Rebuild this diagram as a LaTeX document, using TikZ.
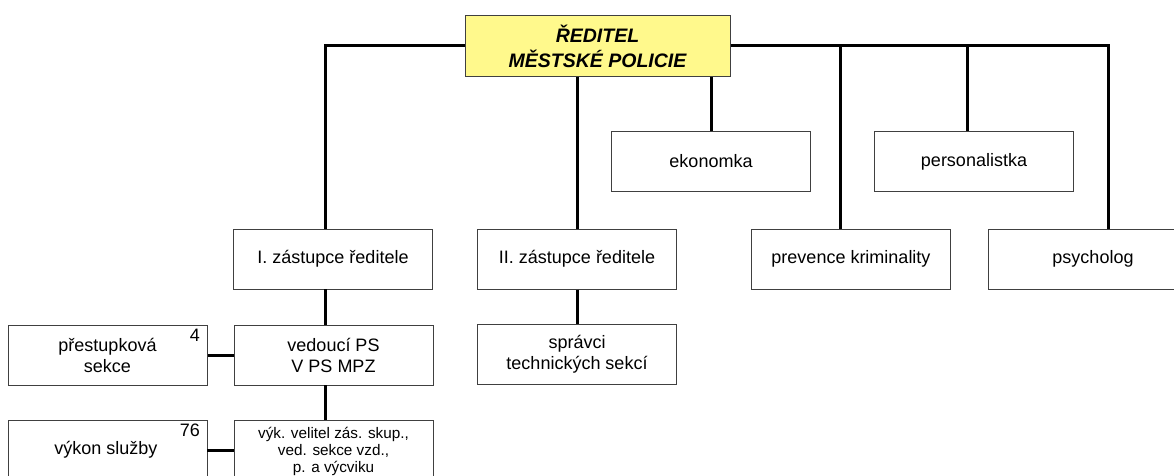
\documentclass[tikz,border=0pt]{standalone}
\usepackage{fontspec}
\setmainfont{Liberation Sans}
\begin{document}
\begin{tikzpicture}[x=1pt,y=-1pt,
  box/.style={draw=black!75, line width=1pt, fill=white, inner sep=0pt, align=center,
    minimum width=199pt, minimum height=60pt, font=\fontsize{18}{21}\selectfont},
  head/.style={box, fill=yellow!45, minimum width=265pt, minimum height=61pt,
    font=\fontsize{19.5}{25}\selectfont\bfseries\itshape},
  num/.style={inner sep=0pt, font=\fontsize{18}{20}\selectfont},
  conn/.style={line width=3pt, black}]
\useasboundingbox (0,0) rectangle (1174,476);
\clip (0,0) rectangle (1174,476);
% nodes
\node[head] (dir) at (597.5,46) {ŘEDITEL\\MĚSTSKÉ POLICIE};
\node[box] (eko) at (711,161.5) {ekonomka};
\node[box] (pers) at (974,161.5) {personalistka};
\node[box] (z1) at (333,259) {I. zástupce ředitele};
\node[box] (z2) at (577,259) {II. zástupce ředitele};
\node[box] (prev) at (851,259) {prevence kriminality};
\node[box, minimum width=210pt] (psy) at (1093,259) {psycholog};
\node[box] (ved) at (333.5,355) {vedoucí PS\\V PS MPZ};
\node[box] (pres) at (107.5,355) {přestupková\\sekce};
\node[box] (spr) at (577,354.5) {správci\\technických sekcí};
\node[box, minimum height=80pt, anchor=north] (vyk) at (333.5,420) {};
\node[font=\fontsize{15.3}{17}\selectfont, align=center, anchor=north, inner sep=0pt] (vyktext) at (333.5,427) {výk. velitel zás. skup.,\\ved. sekce vzd.,\\p. a výcviku};
\node[box, minimum height=80pt, anchor=north] (vs) at (107.5,420) {};
\node[font=\fontsize{18}{21}\selectfont, inner sep=0pt] (vstext) at (106,450) {výkon služby};
\node[num, anchor=north east] (n4) at (200,329) {4};
\node[num, anchor=north east] (n76) at (200,424) {76};
% connectors
\coordinate (lt) at (325,46);
\coordinate (rt) at (1108,46);
\draw[conn] (dir.west) -- (lt) -- (lt |- z1.north);
\draw[conn] (dir.east) -- (rt) -- (rt |- psy.north);
\draw[conn] (dir.south -| z2.north) -- (z2.north);
\draw[conn] (dir.south -| eko.north) -- (eko.north);
\draw[conn] (840,46) -- (840,229);
\draw[conn] (967,46) -- (967,131);
\draw[conn] (325,289) -- (325,325);
\draw[conn] (z2.south) -- (spr.north);
\draw[conn] (325,385) -- (325,420);
\draw[conn] (pres.east) -- (ved.west);
\draw[conn] (207,450) -- (234,450);
\end{tikzpicture}
\end{document}
